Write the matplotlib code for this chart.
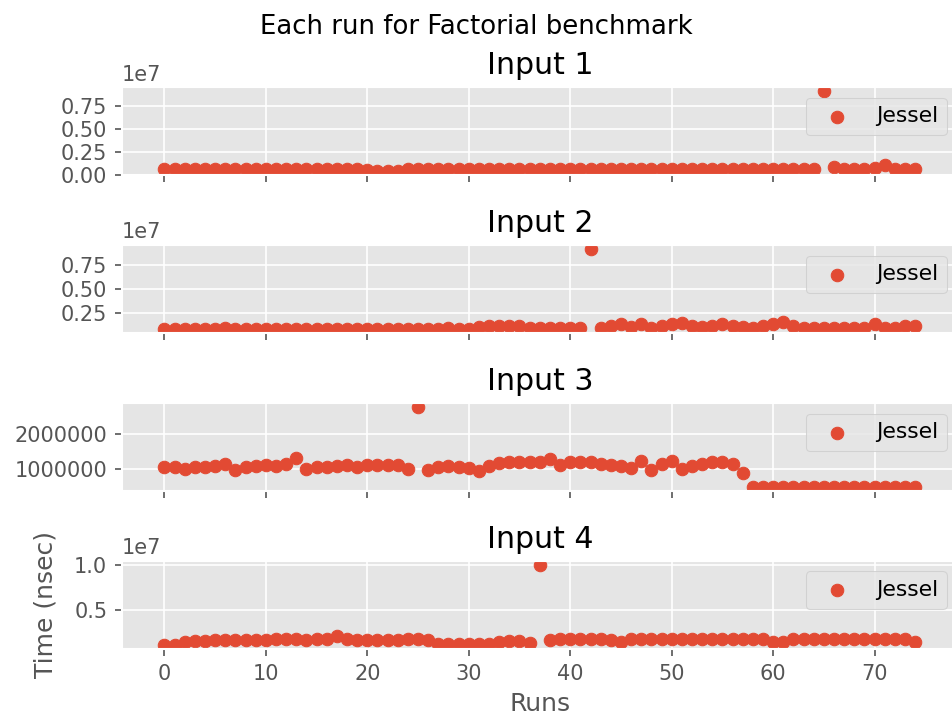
import matplotlib.pyplot as plt
import numpy as np
from matplotlib.ticker import MultipleLocator

runs = np.arange(75)

# time per run in nanoseconds, one list per input
input1 = [680000, 700000, 690000, 710000, 700000, 695000, 705000, 690000, 700000, 710000,
          700000, 690000, 705000, 700000, 710000, 700000, 695000, 705000, 700000, 690000,
          600000, 430000, 410000, 440000, 620000, 700000, 710000, 705000, 700000, 710000,
          700000, 690000, 705000, 700000, 710000, 700000, 695000, 705000, 700000, 690000,
          700000, 690000, 705000, 700000, 710000, 700000, 695000, 705000, 700000, 690000,
          700000, 690000, 705000, 700000, 710000, 700000, 695000, 705000, 700000, 690000,
          700000, 690000, 705000, 700000, 710000, 9100000, 900000, 720000, 700000, 710000,
          760000, 1100000, 720000, 700000, 690000]

input2 = [790000, 780000, 800000, 790000, 800000, 790000, 950000, 790000, 780000, 790000,
          800000, 790000, 780000, 790000, 800000, 790000, 780000, 790000, 800000, 790000,
          790000, 780000, 790000, 800000, 790000, 780000, 790000, 800000, 900000, 800000,
          820000, 1000000, 1160000, 1160000, 1160000, 1100000, 950000, 950000, 940000, 950000,
          940000, 950000, 9200000, 940000, 1160000, 1300000, 1050000, 1300000, 940000, 1160000,
          1300000, 1410000, 1160000, 1050000, 1160000, 1300000, 1160000, 1050000, 940000, 1160000,
          1300000, 1590000, 1160000, 940000, 940000, 950000, 940000, 940000, 950000, 940000,
          1300000, 940000, 950000, 1160000, 1160000]

input3 = [1050000, 1050000, 980000, 1050000, 1050000, 1080000, 1130000, 960000, 1050000, 1080000,
          1100000, 1080000, 1130000, 1300000, 980000, 1050000, 1050000, 1080000, 1100000, 1050000,
          1100000, 1100000, 1100000, 1100000, 1000000, 2810000, 960000, 1050000, 1080000, 1050000,
          1030000, 930000, 1080000, 1150000, 1180000, 1180000, 1180000, 1200000, 1280000, 1100000,
          1180000, 1180000, 1180000, 1130000, 1100000, 1080000, 1030000, 1230000, 960000, 1130000,
          1230000, 980000, 1080000, 1130000, 1200000, 1200000, 1130000, 880000, 460000, 460000,
          455000, 460000, 465000, 460000, 460000, 455000, 460000, 460000, 465000, 460000,
          460000, 455000, 460000, 460000, 465000]

input4 = [990000, 1000000, 1400000, 1500000, 1500000, 1530000, 1530000, 1550000, 1600000, 1600000,
          1600000, 1650000, 1650000, 1650000, 1600000, 1650000, 1650000, 2000000, 1650000, 1600000,
          1550000, 1550000, 1550000, 1600000, 1700000, 1700000, 1550000, 1150000, 1100000, 1100000,
          1100000, 1100000, 1150000, 1400000, 1450000, 1450000, 1260000, 10100000, 1530000, 1650000,
          1650000, 1650000, 1700000, 1650000, 1600000, 1350000, 1650000, 1650000, 1650000, 1650000,
          1650000, 1650000, 1650000, 1650000, 1650000, 1650000, 1650000, 1650000, 1650000, 1650000,
          1350000, 1300000, 1650000, 1650000, 1650000, 1650000, 1650000, 1650000, 1650000, 1650000,
          1650000, 1650000, 1650000, 1650000, 1300000]

titles = ['Input 1', 'Input 2', 'Input 3', 'Input 4']
tick_steps = [2.5e6, 2.5e6, 1e6, 5e6]

plt.style.use('ggplot')
fig, axes = plt.subplots(4, 1, sharex=True, figsize=(952 / 150, 723 / 150), dpi=150)
fig.suptitle('Each run for Factorial benchmark', fontsize=12.5)

for ax, title, times, step in zip(axes, titles, [input1, input2, input3, input4], tick_steps):
    ax.scatter(runs, times, label='Jessel')
    ax.set_title(title)
    ax.legend(loc='upper right', fontsize=10.5)
    ax.yaxis.set_major_locator(MultipleLocator(step))
    if max(times) > 5e6:
        ax.ticklabel_format(axis='y', style='sci', scilimits=(7, 7))
    else:
        ax.ticklabel_format(axis='y', style='plain')

axes[-1].set_xlim(-4.2, 78.2)
axes[-1].set_xticks(np.arange(0, 80, 10))
axes[-1].set_xlabel('Runs')
axes[-1].set_ylabel('Time (nsec)', labelpad=8)

fig.subplots_adjust(left=0.128, right=1.006, top=0.88, bottom=0.102, hspace=0.78)
fig.savefig('out.png')
